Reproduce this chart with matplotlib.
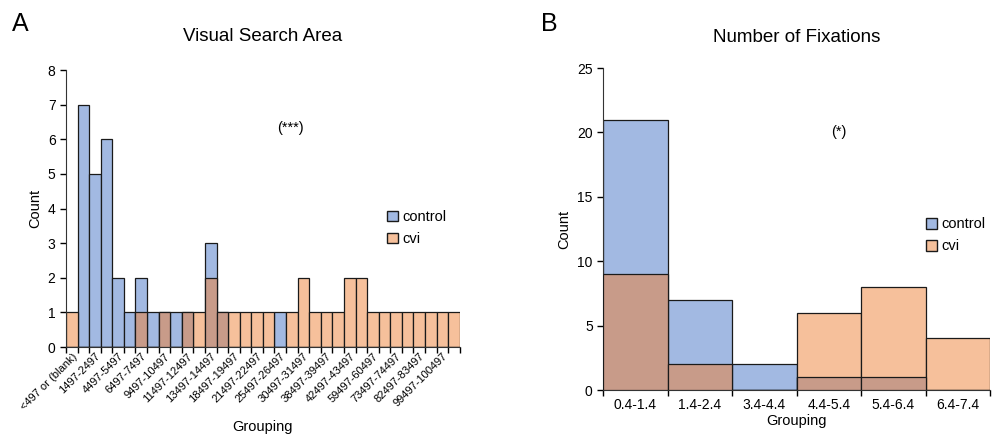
import matplotlib
matplotlib.use("Agg")
import matplotlib.pyplot as plt
import numpy as np
from matplotlib.patches import Patch

plt.rcParams['font.family'] = ['Liberation Sans', 'DejaVu Sans']

# ---- Panel A data ----
vsa_labels = ["<497 or (blank)", "1497-2497", "4497-5497", "6497-7497", "9497-10497",
              "11497-12497", "13497-14497", "18497-19497", "21497-22497", "25497-26497",
              "30497-31497", "38497-39497", "42497-43497", "59497-60497", "73497-74497",
              "82497-83497", "99497-100497"]
vsa_control = [0, 7, 5, 6, 2, 1, 2, 1, 1, 1, 1, 0, 3, 1, 0, 0, 0,
               0, 1, 0, 0, 0, 0, 0, 0, 0, 0, 0, 0, 0, 0, 0, 0, 0]
vsa_cvi = [1, 0, 0, 0, 0, 0, 1, 0, 1, 0, 1, 1, 2, 1, 1, 1, 1,
           1, 0, 1, 2, 1, 1, 1, 2, 2, 1, 1, 1, 1, 1, 1, 1, 1]

# ---- Panel B data ----
fix_labels = ["0.4-1.4", "1.4-2.4", "3.4-4.4", "4.4-5.4", "5.4-6.4", "6.4-7.4"]
fix_control = [21, 7, 2, 1, 1, 0]
fix_cvi = [9, 2, 0, 6, 8, 4]

BLUE = "#a2b9e2"
ORANGE = "#f6c09b"
BROWN = "#c89b89"
EDGE = "#1a1a1a"

fig = plt.figure(figsize=(9.92, 4.36), dpi=100)
axA = fig.add_axes([0.0665, 0.2041, 0.397, 0.635])
axB = fig.add_axes([0.608, 0.1055, 0.390, 0.7385])


def draw_hist(ax, control, cvi):
    control = np.array(control, dtype=float)
    cvi = np.array(cvi, dtype=float)
    n = len(control)
    x = np.arange(n)
    overlap = np.minimum(control, cvi)
    cvi_top = np.where(cvi > control, cvi, 0)
    ax.bar(x, control, width=1.0, color=BLUE, edgecolor=EDGE, linewidth=0.9, zorder=2)
    ax.bar(x, cvi_top, width=1.0, color=ORANGE, edgecolor=EDGE, linewidth=0.9, zorder=2)
    ax.bar(x, overlap, width=1.0, color=BROWN, edgecolor=EDGE, linewidth=0.9, zorder=3)
    ax.set_xlim(-0.5, n - 0.5)
    ax.set_xticks(np.arange(n + 1) - 0.5)
    ax.set_xticklabels([])
    ax.tick_params(axis='x', which='major', length=4, direction='out', width=1)
    ax.tick_params(axis='y', length=4, direction='out', width=1, labelsize=10)
    for s in ['top', 'right']:
        ax.spines[s].set_visible(False)
    ax.spines['left'].set_color('#333333')
    ax.spines['bottom'].set_color('#333333')
    return x


xa = draw_hist(axA, vsa_control, vsa_cvi)
axA.set_ylim(0, 8)
axA.set_yticks(range(0, 9))
axA.set_xticks(xa[::2], minor=True)
axA.set_xticklabels(vsa_labels, minor=True, rotation=45, ha='right', rotation_mode='anchor',
                    fontsize=8)
axA.tick_params(axis='x', which='minor', length=0, pad=3)
axA.set_ylabel("Count", fontsize=10.5)
axA.set_xlabel("Grouping", fontsize=10.5, labelpad=6)
axA.set_title("Visual Search Area", fontsize=13.5, pad=21)
axA.text(0.57, 0.79, "(***)", transform=axA.transAxes, fontsize=10.5, ha='center', va='center')
axA.legend(handles=[Patch(facecolor=BLUE, edgecolor=EDGE, label='control'),
                    Patch(facecolor=ORANGE, edgecolor=EDGE, label='cvi')],
           loc='center left', bbox_to_anchor=(0.80, 0.43), frameon=False, fontsize=10.5,
           handlelength=0.75, handleheight=0.75, handletextpad=0.3, labelspacing=0.55,
           borderaxespad=0)

xb = draw_hist(axB, fix_control, fix_cvi)
axB.set_ylim(0, 25)
axB.set_yticks(range(0, 26, 5))
axB.set_xticks(xb, minor=True)
axB.set_xticklabels(fix_labels, minor=True, fontsize=10)
axB.tick_params(axis='x', which='minor', length=0, pad=6)
axB.set_ylabel("Count", fontsize=10.5)
axB.set_xlabel("Grouping", fontsize=10.5, labelpad=1)
axB.set_title("Number of Fixations", fontsize=13.5, pad=19)
axB.text(0.61, 0.80, "(*)", transform=axB.transAxes, fontsize=10.5, ha='center', va='center')
axB.legend(handles=[Patch(facecolor=BLUE, edgecolor=EDGE, label='control'),
                    Patch(facecolor=ORANGE, edgecolor=EDGE, label='cvi')],
           loc='center left', bbox_to_anchor=(0.82, 0.48), frameon=False, fontsize=10.5,
           handlelength=0.75, handleheight=0.75, handletextpad=0.3, labelspacing=0.55,
           borderaxespad=0)

fig.text(0.012, 0.945, "A", fontsize=18, va='center')
fig.text(0.545, 0.945, "B", fontsize=18, va='center')

fig.savefig("out.png", dpi=100)
